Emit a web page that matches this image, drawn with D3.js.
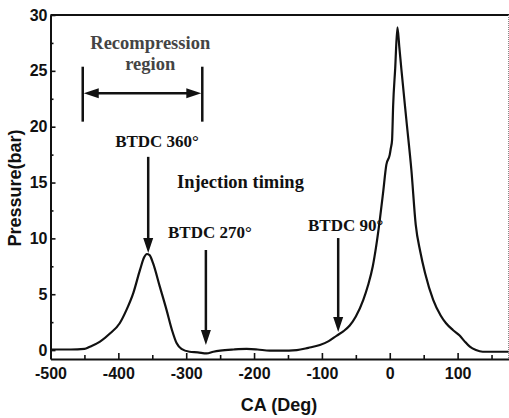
<!DOCTYPE html>
<html>
<head>
<meta charset="utf-8">
<script src="https://cdn.jsdelivr.net/npm/d3@7"></script>
<style>
    body { margin: 0; background: #fff; }
    .tick text { font-family: "Liberation Sans", Arial, sans-serif; font-weight: bold; font-size: 16px; fill: #111; }
    .axis-title { font-family: "Liberation Sans", Arial, sans-serif; font-weight: bold; font-size: 18px; fill: #111; }
    .note { font-family: "Liberation Serif", "Times New Roman", serif; font-weight: bold; font-size: 17px; fill: #111; }
    .note.big { font-size: 18.5px; }
    .note.grey { fill: #444; }
</style>
</head>
<body>
<div id="chart"></div>
<script>
// crank angle (deg) vs cylinder pressure (bar)
const caDeg = [-500, -470, -450, -442, -427, -412, -398, -388, -378, -368, -362, -358, -354, -349, -339,
    -329, -321, -314, -307, -295, -283, -270, -260, -250, -230, -211, -195, -177, -160, -137, -120,
    -103, -90, -78, -68, -59, -50, -39, -32, -25, -20, -15, -10, -5, 0, 1.5, 3.4, 5, 8, 11.3, 14,
    17.2, 24.5, 31.9, 38.3, 45, 52, 64, 75, 83, 93, 103, 110, 118, 127, 137, 150, 175];
const pressureBar = [0.05, 0.05, 0.1, 0.3, 0.75, 1.5, 2.4, 3.6, 5.1, 7.2, 8.3, 8.6, 8.5, 7.8, 5.7,
    3.6, 1.8, 0.6, 0.1, -0.15, -0.2, -0.3, -0.15, -0.05, 0.05, 0.1, 0.05, -0.05, -0.05, 0, 0.2,
    0.45, 0.8, 1.3, 1.7, 2.2, 3.0, 4.5, 5.8, 7.5, 9.3, 11.5, 14.0, 16.6, 17.5, 18.05, 18.8, 21.9, 25.2, 28.9, 27.2,
    25.1, 20.6, 16.1, 11.2, 8.8, 6.9, 4.5, 3.1, 2.4, 1.8, 1.3, 0.8, 0.3, 0, -0.15, -0.15, -0.15];

const xTicks = [-500, -400, -300, -200, -100, 0, 100];
const xMinorTicks = [-450, -350, -250, -150, -50, 50, 150];
const yTicks = [0, 5, 10, 15, 20, 25, 30];
const yMinorTicks = [2.5, 7.5, 12.5, 17.5, 22.5, 27.5];

// annotation arrows (down-pointing): crank angle, top and tip pressure
const arrowCa = [-356, -271, -76];
const arrowTop = [17.3, 8.96, 10.03];
const arrowTip = [8.7, 0.45, 1.62];

// recompression region span
const regionCa = [-452.5, -276.3];
const regionBarP = [20.45, 25.37];
const regionArrowP = 23.0;

const noteText = ["Recompression", "region", "BTDC 360°", "Injection timing", "BTDC 270°", "BTDC 90°"];
const noteCa = [-353, -353, -343, -313.6, -326.8, -120.5];
const noteP = [27.0, 25.1, 18.18, 14.51, 10.03, 10.66];
const noteAnchor = ["middle", "middle", "middle", "start", "start", "start"];
const noteClass = ["note big grey", "note big grey", "note", "note big", "note", "note"];

const width = 509, height = 418;
const x = d3.scaleLinear().domain([-500, 175]).range([50.5, 508.5]);
const y = d3.scaleLinear().domain([-0.8, 30]).range([359, 15]);

const svg = d3.select("#chart").append("svg")
    .attr("width", width)
    .attr("height", height);

// frame: heavy top, faint dotted right
svg.append("line")
    .attr("x1", x.range()[0]).attr("x2", width)
    .attr("y1", y(30)).attr("y2", y(30))
    .attr("stroke", "#111").attr("stroke-width", 2);
svg.append("line")
    .attr("x1", x(175)).attr("x2", x(175))
    .attr("y1", y(30)).attr("y2", y.range()[0])
    .attr("stroke", "#888").attr("stroke-width", 1)
    .attr("stroke-dasharray", "1,1");

svg.append("g")
    .attr("transform", `translate(0,${y.range()[0]})`)
    .call(d3.axisBottom(x).tickValues(xTicks).tickSize(-6).tickSizeOuter(0)
        .tickPadding(9).tickFormat(d => String(d)));
svg.append("g")
    .attr("transform", `translate(0,${y.range()[0]})`)
    .call(d3.axisBottom(x).tickValues(xMinorTicks).tickSize(-4).tickSizeOuter(0).tickFormat(""))
    .select(".domain").remove();

svg.append("g")
    .attr("transform", `translate(${x.range()[0]},0)`)
    .call(d3.axisLeft(y).tickValues(yTicks).tickSize(-5).tickSizeOuter(0)
        .tickPadding(3).tickFormat(d => String(d)));
svg.append("g")
    .attr("transform", `translate(${x.range()[0]},0)`)
    .call(d3.axisLeft(y).tickValues(yMinorTicks).tickSize(-3).tickSizeOuter(0).tickFormat(""))
    .select(".domain").remove();

svg.selectAll(".domain").attr("stroke", "#111").attr("stroke-width", 2);
svg.selectAll(".tick line").attr("stroke", "#111").attr("stroke-width", 1.6);

svg.append("text")
    .attr("class", "axis-title")
    .attr("x", 279).attr("y", 411)
    .attr("text-anchor", "middle")
    .text("CA (Deg)");
svg.append("text")
    .attr("class", "axis-title")
    .attr("transform", "translate(21,188) rotate(-90)")
    .attr("text-anchor", "middle")
    .text("Pressure(bar)");

// pressure trace
const line = d3.line()
    .x(i => x(caDeg[i]))
    .y(i => y(pressureBar[i]))
    .curve(d3.curveMonotoneX);
svg.append("path")
    .attr("d", line(d3.range(caDeg.length)))
    .attr("fill", "none")
    .attr("stroke", "#111")
    .attr("stroke-width", 2.2)
    .attr("stroke-linejoin", "round");

function arrowHead(g, px, py, dir) {
    // dir: 'down', 'left', 'right'
    const L = 15, W = 5;
    let pts;
    if (dir === "down") pts = [[px, py], [px - W, py - L], [px + W, py - L]];
    else if (dir === "left") pts = [[px, py], [px + L, py - W], [px + L, py + W]];
    else pts = [[px, py], [px - L, py - W], [px - L, py + W]];
    g.append("path").attr("d", "M" + pts.join("L") + "Z").attr("fill", "#111");
}

const notes = svg.append("g");

for (let i = 0; i < arrowCa.length; ++i) {
    notes.append("line")
        .attr("x1", x(arrowCa[i])).attr("x2", x(arrowCa[i]))
        .attr("y1", y(arrowTop[i])).attr("y2", y(arrowTip[i]) - 10)
        .attr("stroke", "#111").attr("stroke-width", 2.5);
    arrowHead(notes, x(arrowCa[i]), y(arrowTip[i]), "down");
}

for (const c of regionCa) {
    notes.append("line")
        .attr("x1", x(c)).attr("x2", x(c))
        .attr("y1", y(regionBarP[1])).attr("y2", y(regionBarP[0]))
        .attr("stroke", "#111").attr("stroke-width", 2.5);
}
notes.append("line")
    .attr("x1", x(regionCa[0]) + 10).attr("x2", x(regionCa[1]) - 10)
    .attr("y1", y(regionArrowP)).attr("y2", y(regionArrowP))
    .attr("stroke", "#111").attr("stroke-width", 2.5);
arrowHead(notes, x(regionCa[0]) + 1, y(regionArrowP), "left");
arrowHead(notes, x(regionCa[1]) - 1, y(regionArrowP), "right");

for (let i = 0; i < noteText.length; ++i) {
    notes.append("text")
        .attr("class", noteClass[i])
        .attr("x", x(noteCa[i]))
        .attr("y", y(noteP[i]))
        .attr("text-anchor", noteAnchor[i])
        .text(noteText[i]);
}
</script>
</body>
</html>
